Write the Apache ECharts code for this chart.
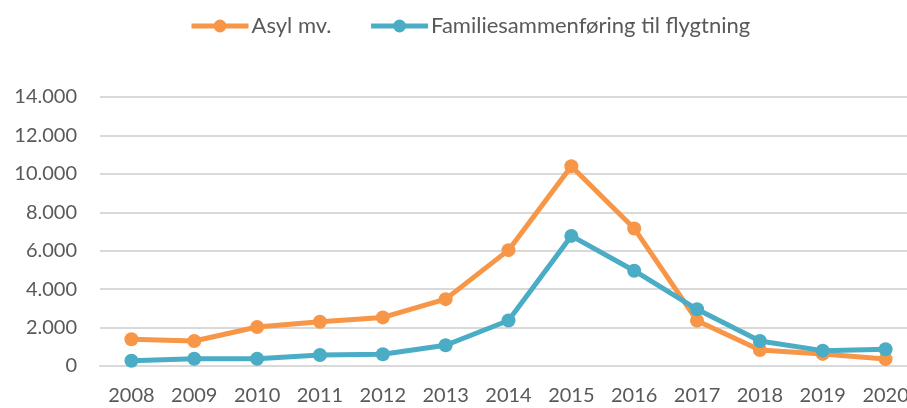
<!DOCTYPE html>
<html>
<head>
<meta charset="utf-8">
<script src="https://cdn.jsdelivr.net/npm/echarts@6/dist/echarts.min.js"></script>
<style>
html,body{margin:0;padding:0;background:#fff;}
#chart{width:907px;height:408px;}
</style>
</head>
<body>
<div id="chart"></div>
<script>
const years = ['2008','2009','2010','2011','2012','2013','2014','2015','2016','2017','2018','2019','2020'];
const asyl = [1390, 1300, 2030, 2300, 2530, 3480, 6030, 10400, 7160, 2360, 830, 630, 360];
const familie = [270, 380, 380, 570, 610, 1080, 2370, 6770, 4960, 2950, 1300, 800, 870];
const seriesNames = ['Asyl mv.', 'Familiesammenføring til flygtning'];

const FONT = 'Lato';
const TXT = '#595959';
const chart = echarts.init(document.getElementById('chart'), null, {renderer:'canvas'});
chart.setOption({
  animation: false,
  backgroundColor: '#fff',
  legend: {
    left: 189, top: 15, padding: 0,
    itemWidth: 57, itemHeight: 16, itemGap: 37,
    lineStyle: {width: 5},
    textStyle: {fontFamily: FONT, fontSize: 22, color: TXT, padding: [0,0,0,-2]},
    data: seriesNames
  },
  grid: {left: 100, width: 817, top: 97, bottom: 42, containLabel: false, outerBoundsMode: 'none'},
  xAxis: {
    type: 'category', data: years, boundaryGap: true,
    axisLine: {show: true, lineStyle: {color: '#D9D9D9', width: 2}},
    axisTick: {show: false},
    axisLabel: {fontFamily: FONT, fontSize: 20, color: TXT, margin: 20}
  },
  yAxis: {
    type: 'value', min: 0, max: 14000, interval: 2000,
    axisLine: {show: false}, axisTick: {show: false},
    splitLine: {lineStyle: {color: '#D9D9D9', width: 2}},
    axisLabel: {fontFamily: FONT, fontSize: 20, color: TXT, margin: 23,
      formatter: v => v === 0 ? '0' : (v/1000).toFixed(3)}
  },
  series: [
    {name: seriesNames[0], type: 'line', data: asyl, color: '#F79646',
     symbol: 'circle', symbolSize: 14, lineStyle: {width: 5}, itemStyle: {color: '#F79646'}},
    {name: seriesNames[1], type: 'line', data: familie, color: '#4BACC6',
     symbol: 'circle', symbolSize: 14, lineStyle: {width: 5}, itemStyle: {color: '#4BACC6'}}
  ]
});
</script>
</body>
</html>
